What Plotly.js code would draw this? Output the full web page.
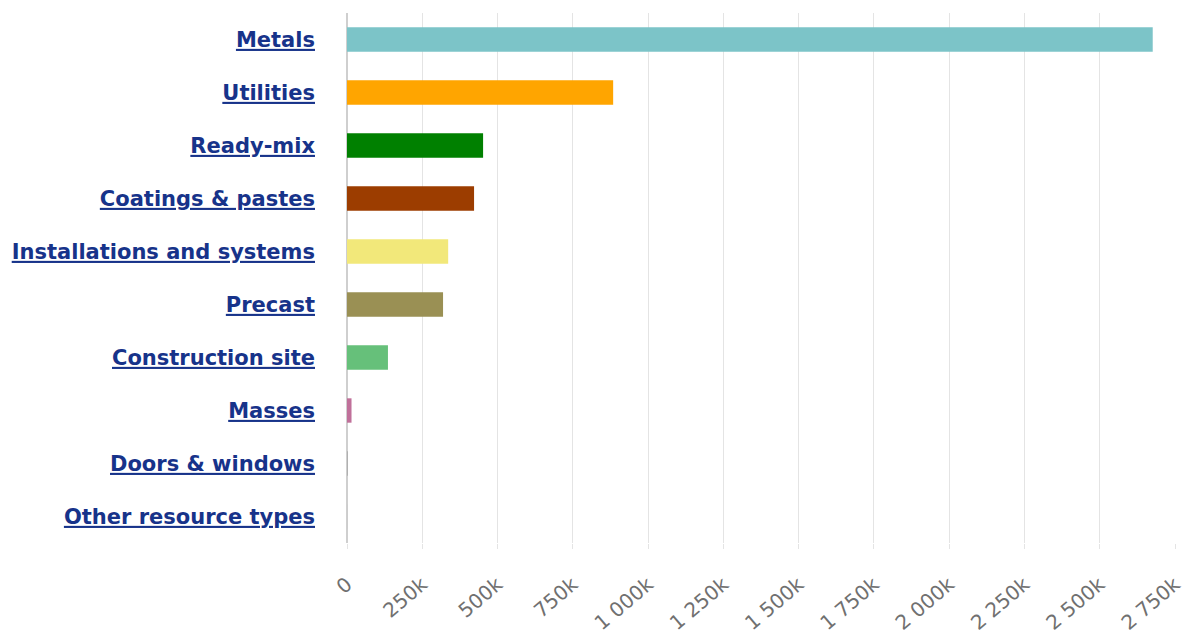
<!DOCTYPE html>
<html>
<head>
<meta charset="utf-8">
<script src="https://cdn.plot.ly/plotly-3.0.1.min.js"></script>
<style>html,body{margin:0;padding:0;background:#fff;}#chart{width:1186px;height:637px;}</style>
</head>
<body>
<div id="chart"></div>
<script>
const categories = ["Metals","Utilities","Ready-mix","Coatings & pastes","Installations and systems","Precast","Construction site","Masses","Doors & windows","Other resource types"];
const values = [2676000, 884000, 452000, 422000, 336000, 319000, 136000, 15000, 2000, 500];
const tickValues = [0,250000,500000,750000,1000000,1250000,1500000,1750000,2000000,2250000,2500000,2750000];
const tickLabels = ["0","250k","500k","750k","1 000k","1 250k","1 500k","1 750k","2 000k","2 250k","2 500k","2 750k"];
const barColors = ["#7cc4c8","#ffa500","#008000","#9c3d00","#f2e87a","#9a9054","#66c07a","#c0709a","#b0b0b0","#cccccc"];

const trace = {
  type: "bar",
  orientation: "h",
  y: categories,
  x: values,
  marker: {color: barColors},
  width: 0.46,
  hoverinfo: "x+y"
};
const layout = {
  width: 1186, height: 637,
  margin: {l: 347, r: 11, t: 13, b: 94},
  paper_bgcolor: "#fff", plot_bgcolor: "#fff",
  showlegend: false,
  xaxis: {
    range: [0, 2750000],
    tickvals: tickValues,
    ticktext: tickLabels,
    tickangle: -40,
    showgrid: true,
    gridcolor: "#e4e4e4",
    gridwidth: 1,
    zeroline: true,
    zerolinecolor: "#cfcfcf",
    zerolinewidth: 2,
    showline: false,
    ticks: "outside",
    ticklen: 5,
    tickcolor: "#e4e4e4",
    ticklabelstandoff: 16,
    tickfont: {family: "DejaVu Sans", size: 20, color: "#707070"}
  },
  yaxis: {
    categoryorder: "array",
    categoryarray: categories,
    autorange: "reversed",
    showgrid: false,
    zeroline: false,
    showline: false,
    ticks: "",
    ticklabelstandoff: 31,
    tickfont: {family: "DejaVu Sans", size: 21, color: "#17338a", weight: "bold", lineposition: "under"}
  }
};
Plotly.newPlot("chart", [trace], layout, {displayModeBar: false, responsive: false});
</script>
</body>
</html>
